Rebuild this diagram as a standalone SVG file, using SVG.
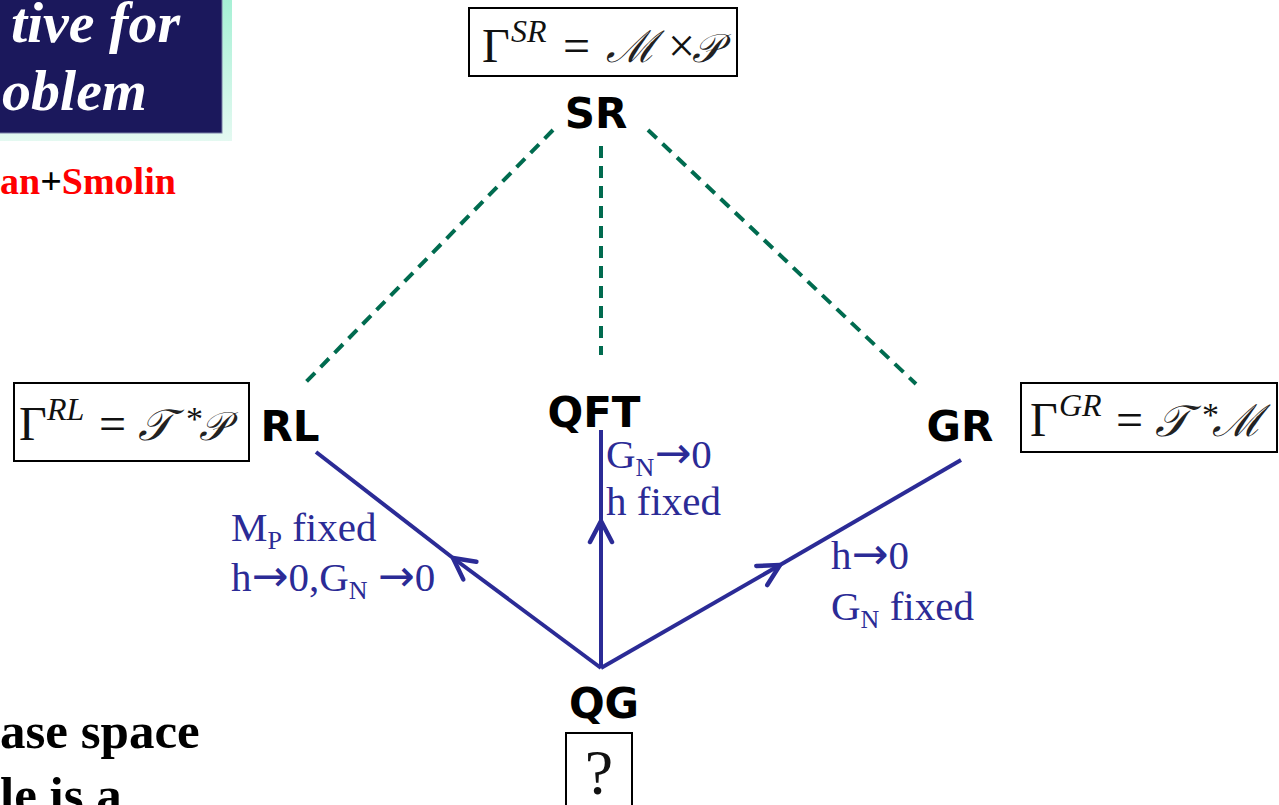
<svg xmlns="http://www.w3.org/2000/svg" width="1279" height="805" viewBox="0 0 1279 805">
<defs>
<linearGradient id="mint" x1="0" y1="0" x2="0" y2="1">
<stop offset="0" stop-color="#a4f0d4"/>
<stop offset="1" stop-color="#e4f9f1"/>
</linearGradient>
<marker id="arr" viewBox="0 0 28 28" refX="25" refY="14" markerWidth="28" markerHeight="28" markerUnits="userSpaceOnUse" orient="auto">
<path d="M4,3 L25,14 L4,25" fill="none" stroke="#2b2b96" stroke-width="4.5" stroke-linecap="round" stroke-linejoin="round"/>
</marker>
</defs>
<style>
.node{font-family:"DejaVu Sans","Liberation Sans",sans-serif;font-weight:bold;font-size:42px;fill:#000}
.blue{font-family:"Liberation Serif",serif;font-size:41px;fill:#2b2b96}
.sub{font-size:26px}
.ar{font-family:"DejaVu Sans",sans-serif;font-size:44px}
.box{fill:#fff;stroke:#000;stroke-width:2}
.f{font-family:"Liberation Serif","DejaVu Serif",serif;font-size:48px;fill:#111}
.it{font-style:italic;font-size:32px}
.star{font-size:34px}
.q{font-size:64px}
.cal{font-family:"DejaVu Serif",serif;font-style:italic;fill:#222;font-size:44px}
.calp{font-family:"DejaVu Serif",serif;font-style:italic;fill:#222;font-size:40px}
.dash{stroke:#006b4f;stroke-width:4;stroke-dasharray:12,8;fill:none}
.solid{stroke:#2b2b96;stroke-width:4;fill:none}
.title{font-family:"Liberation Serif",serif;font-style:italic;font-weight:bold;font-size:58px;fill:#fff}
.tb{font-family:"Liberation Serif",serif;font-weight:bold}
</style>
<rect width="1279" height="805" fill="#fff"/>
<g id="title">
<rect x="-5" y="-5" width="237" height="146" fill="url(#mint)"/>
<rect x="-5" y="-5" width="227" height="138" fill="#1b185c" stroke="#7a80a8" stroke-width="1"/>
<text class="title" x="180" y="42" text-anchor="end">tive for</text>
<text class="title" x="147" y="110" text-anchor="end">oblem</text>
</g>
<g id="authors">
<text class="tb" x="0" y="194" font-size="38" fill="#ff0000">an<tspan fill="#000">+</tspan>Smolin</text>
</g>
<g id="bodytext">
<text class="tb" x="0" y="748" font-size="51" fill="#000">ase space</text>
<text class="tb" x="0" y="812" font-size="51" fill="#000">le is a</text>
</g>
<g id="connectors">
<line class="dash" x1="553" y1="130" x2="304" y2="384"/>
<line class="dash" x1="601" y1="146" x2="601" y2="355"/>
<line class="dash" x1="648" y1="130" x2="916" y2="384"/>
<path class="solid" d="M601,668 L453,558" marker-end="url(#arr)"/>
<line class="solid" x1="453" y1="558" x2="316" y2="452"/>
<path class="solid" d="M601,668 L601,521" marker-end="url(#arr)"/>
<line class="solid" x1="601" y1="521" x2="601" y2="430"/>
<path class="solid" d="M601,668 L780,565" marker-end="url(#arr)"/>
<line class="solid" x1="780" y1="565" x2="961" y2="460"/>
</g>
<g id="SR">
<rect class="box" x="469" y="8" width="268" height="68"/>
<text class="f" y="62"><tspan x="482">Γ</tspan><tspan class="it" x="511" y="42">SR</tspan><tspan x="563" y="62">=</tspan><tspan class="cal" x="606">ℳ</tspan><tspan x="668">×</tspan><tspan class="calp" x="692">𝒫</tspan></text>
<text class="node" x="596" y="128" text-anchor="middle">SR</text>
</g>
<g id="RL">
<rect class="box" x="14" y="383" width="235" height="78"/>
<text class="f" y="440"><tspan x="19">Γ</tspan><tspan class="it" x="47" y="420">RL</tspan><tspan x="99" y="440">=</tspan><tspan class="cal" x="138">𝒯</tspan><tspan class="star" x="186" y="430">*</tspan><tspan class="calp" x="199" y="440">𝒫</tspan></text>
<text class="node" x="290" y="441" text-anchor="middle">RL</text>
</g>
<g id="QFT">
<text class="node" x="594" y="427" text-anchor="middle">QFT</text>
</g>
<g id="GR">
<rect class="box" x="1021" y="383" width="256" height="69"/>
<text class="f" y="436"><tspan x="1030">Γ</tspan><tspan class="it" x="1059" y="416">GR</tspan><tspan x="1116" y="436">=</tspan><tspan class="cal" x="1155">𝒯</tspan><tspan class="star" x="1202" y="426">*</tspan><tspan class="cal" x="1212" y="436">ℳ</tspan></text>
<text class="node" x="960" y="441" text-anchor="middle">GR</text>
</g>
<g id="QG">
<text class="node" x="604" y="718" text-anchor="middle">QG</text>
<rect class="box" x="566" y="733" width="66" height="80"/>
<text class="f" y="794"><tspan class="q" x="599" text-anchor="middle">?</tspan></text>
</g>
<g id="labels">
<text class="blue" x="231" y="541">M<tspan class="sub" dy="8">P</tspan><tspan dy="-8"> fixed</tspan></text>
<text class="blue" x="231" y="591">h<tspan class="ar">→</tspan>0,G<tspan class="sub" dy="8">N</tspan><tspan dy="-8"> </tspan><tspan class="ar">→</tspan>0</text>
<text class="blue" x="606" y="468">G<tspan class="sub" dy="8">N</tspan><tspan class="ar" dy="-8">→</tspan>0</text>
<text class="blue" x="606" y="515">h fixed</text>
<text class="blue" x="831" y="569">h<tspan class="ar">→</tspan>0</text>
<text class="blue" x="831" y="620">G<tspan class="sub" dy="8">N</tspan><tspan dy="-8"> fixed</tspan></text>
</g>
</svg>
